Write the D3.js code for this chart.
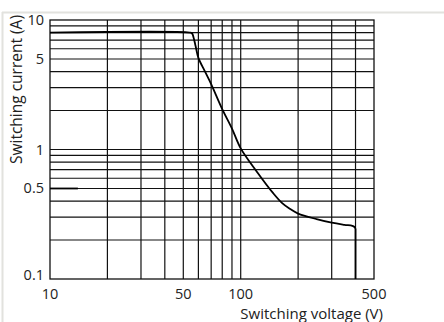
<!DOCTYPE html>
<html>
 <head>
    <script src="https://d3js.org/d3.v7.min.js"></script>
    <style>
      body { margin: 0; background: #fff; }
      text { font-family: "Open Sans", sans-serif; fill: #222; }
    </style>
 </head>
 <body>
    <div id="chart"></div>
    <script>
      // axis values
      var xTicks = [10, 50, 100, 500];
      var yTicks = [0.1, 0.5, 1, 5, 10];
      var xGrid = [20, 30, 40, 50, 60, 70, 80, 90, 100, 200, 300, 400];
      var yGrid = [0.2, 0.3, 0.4, 0.5, 0.6, 0.7, 0.8, 0.9, 1, 2, 3, 4, 5, 6, 7, 8, 9];

      // limit curve (voltage V, current A)
      var voltage = [10, 54, 55.5, 56.5, 58, 60, 65, 70, 80, 90, 100, 121, 148, 165, 180, 200, 250, 300, 350, 385, 395, 400];
      var current = [8, 8, 7.9, 7.4, 6.3, 5.1, 4.0, 3.2, 2.05, 1.45, 1.02, 0.68, 0.46, 0.385, 0.35, 0.32, 0.29, 0.272, 0.262, 0.257, 0.252, 0.245];
      var dropVoltage = 400;

      // short mark at 0.5 A
      var markVoltage = [10, 14];
      var markCurrent = 0.5;

      var width = 444, height = 322;
      var plotLeft = 50, plotRight = 374, plotTop = 20, plotBottom = 279;

      var svg = d3.select("#chart").append("svg")
        .attr("width", width)
        .attr("height", height);

      // light frame
      svg.append("line").attr("x1", 2).attr("x2", width).attr("y1", 12.5).attr("y2", 12.5)
        .attr("stroke", "#e2e2de").attr("stroke-width", 2);
      svg.append("line").attr("x1", 2.5).attr("x2", 2.5).attr("y1", 12).attr("y2", height)
        .attr("stroke", "#e2e2de").attr("stroke-width", 2);

      var x = d3.scaleLog().domain([10, 500]).range([plotLeft, plotRight]);
      var y = d3.scaleLog().domain([0.1, 10]).range([plotBottom, plotTop]);

      var grid = svg.append("g").attr("stroke", "#111").attr("stroke-width", 1.2);
      grid.selectAll(".vx").data(xGrid).enter().append("line")
        .attr("x1", function (d) { return x(d); }).attr("x2", function (d) { return x(d); })
        .attr("y1", plotTop).attr("y2", plotBottom);
      grid.selectAll(".hy").data(yGrid).enter().append("line")
        .attr("x1", plotLeft).attr("x2", plotRight)
        .attr("y1", function (d) { return y(d); }).attr("y2", function (d) { return y(d); });

      // plot border
      svg.append("rect")
        .attr("x", plotLeft).attr("y", plotTop)
        .attr("width", plotRight - plotLeft).attr("height", plotBottom - plotTop)
        .attr("fill", "none").attr("stroke", "#111").attr("stroke-width", 1.3);

      // curve
      var pts = voltage.map(function (v, i) { return [v, current[i]]; });
      var line = d3.line()
        .x(function (d) { return x(d[0]); })
        .y(function (d) { return y(d[1]); })
        .curve(d3.curveCatmullRom.alpha(0.5));
      svg.append("path").datum(pts)
        .attr("d", line)
        .attr("fill", "none").attr("stroke", "#000").attr("stroke-width", 1.8);
      svg.append("line")
        .attr("x1", x(dropVoltage)).attr("x2", x(dropVoltage))
        .attr("y1", y(current[current.length - 1])).attr("y2", plotBottom)
        .attr("stroke", "#000").attr("stroke-width", 1.8);

      svg.append("line")
        .attr("x1", x(markVoltage[0])).attr("x2", x(markVoltage[1]))
        .attr("y1", y(markCurrent)).attr("y2", y(markCurrent))
        .attr("stroke", "#000").attr("stroke-width", 1.8);

      // tick labels
      svg.selectAll(".xt").data(xTicks).enter().append("text")
        .attr("x", function (d) { return x(d); })
        .attr("y", 299)
        .attr("text-anchor", "middle")
        .attr("font-size", 14.5)
        .text(function (d) { return d; });
      svg.selectAll(".yt").data(yTicks).enter().append("text")
        .attr("x", 44)
        .attr("y", function (d) { return Math.min(y(d) + 5, plotBottom + 1); })
        .attr("text-anchor", "end")
        .attr("font-size", 14.5)
        .text(function (d) { return d; });

      // axis titles
      svg.append("text")
        .attr("x", 383).attr("y", 319)
        .attr("text-anchor", "end")
        .attr("font-size", 15)
        .text("Switching voltage (V)");
      svg.append("text")
        .attr("transform", "translate(22,15) rotate(-90)")
        .attr("text-anchor", "end")
        .attr("font-size", 15.5)
        .text("Switching current (A)");
    </script>
 </body>
</html>
